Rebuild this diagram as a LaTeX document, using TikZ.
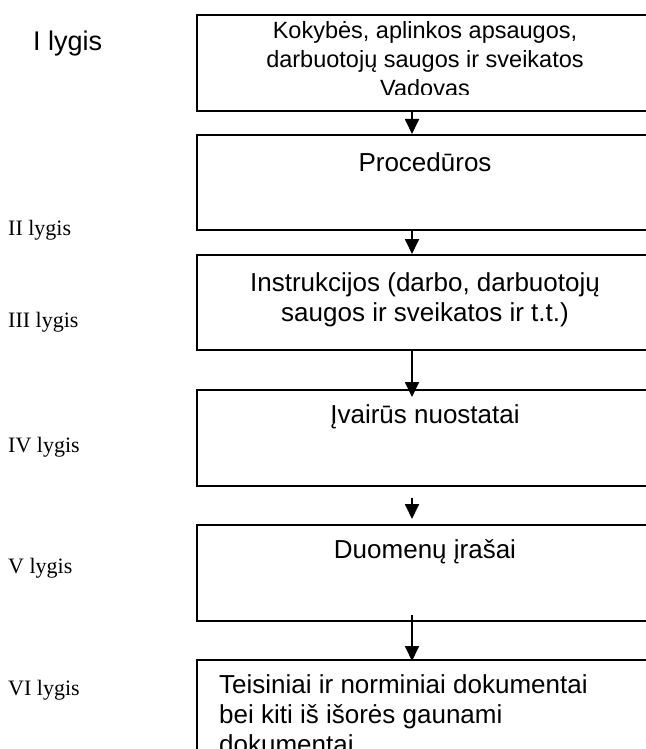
\documentclass[tikz,border=0pt]{standalone}
\usepackage{fontspec}
\setmainfont{Liberation Serif}
\setsansfont{Liberation Sans}
\usetikzlibrary{arrows.meta,positioning}

\begin{document}
\begin{tikzpicture}[x=1pt,y=-1pt,
    lvlbox/.style={draw,line width=1.8pt,anchor=north west,minimum width=470pt,inner sep=0pt},
    boxtxt/.style={font=\sffamily\fontsize{26}{30}\selectfont,align=center,anchor=base,inner sep=0pt},
    lvl/.style={font=\fontsize{22}{26}\selectfont,anchor=base west,inner sep=0pt},
    arr/.style={line width=1.8pt,-{Triangle[length=15pt,width=14pt]}}]
        \useasboundingbox (0,0) rectangle (645,749);

        % lygiu deziutes
        \node[lvlbox,minimum height=96pt] (b1) at (196,14) {};
        \node[lvlbox,minimum height=95pt] (b2) at (196,134) {};
        \node[lvlbox,minimum height=95pt] (b3) at (196,254) {};
        \node[lvlbox,minimum height=96pt] (b4) at (196,389) {};
        \node[lvlbox,minimum height=96pt] (b5) at (196,524) {};
        \node[lvlbox,minimum height=140pt] (b6) at (196,659) {};

        % tekstai deziutese (bazine linija - paskutine eilute)
        \begin{scope}
            \clip (196,14) rectangle (660,95);
            \node[boxtxt,font=\sffamily\fontsize{23.5}{29}\selectfont] (t1) at (425,97) {Kokybės, aplinkos apsaugos,\\darbuotojų saugos ir sveikatos\\Vadovas};
        \end{scope}
        \node[boxtxt] (t2) at (425,171) {Procedūros};
        \node[boxtxt] (t3) at (425,321) {Instrukcijos (darbo, darbuotojų\\saugos ir sveikatos ir t.t.)};
        \node[boxtxt] (t4) at (425,423) {Įvairūs nuostatai};
        \node[boxtxt] (t5) at (425,558) {Duomenų įrašai};
        \node[boxtxt,align=left,anchor=base west] (t6) at (219,753) {Teisiniai ir norminiai dokumentai\\bei kiti iš išorės gaunami\\dokumentai};

        % lygiai kaireje
        \node[lvl,font=\sffamily\fontsize{27}{30}\selectfont] (l1) at (33,51) {I lygis};
        \node[lvl] (l2) at (8,235) {II lygis};
        \node[lvl] (l3) at (8,327) {III lygis};
        \node[lvl] (l4) at (8,452) {IV lygis};
        \node[lvl] (l5) at (8,573) {V lygis};
        \node[lvl] (l6) at (8,695) {VI lygis};

        % rodykles
        \coordinate (ax) at (412,0);
        \coordinate (a4) at (412,498);
        \coordinate (a5) at (412,519);
        \draw[arr] (b1.south -| ax) -- (b2.north -| ax);
        \draw[arr] (b2.south -| ax) -- (b3.north -| ax);
        \draw[arr] (b3.south -| ax) -- ([yshift=-8pt]b4.north -| ax);
        \draw[arr] (a4) -- (a5);
        \draw[arr] ([yshift=7pt]b5.south -| ax) -- ([yshift=-2pt]b6.north -| ax);
    \end{tikzpicture}
\end{document}
